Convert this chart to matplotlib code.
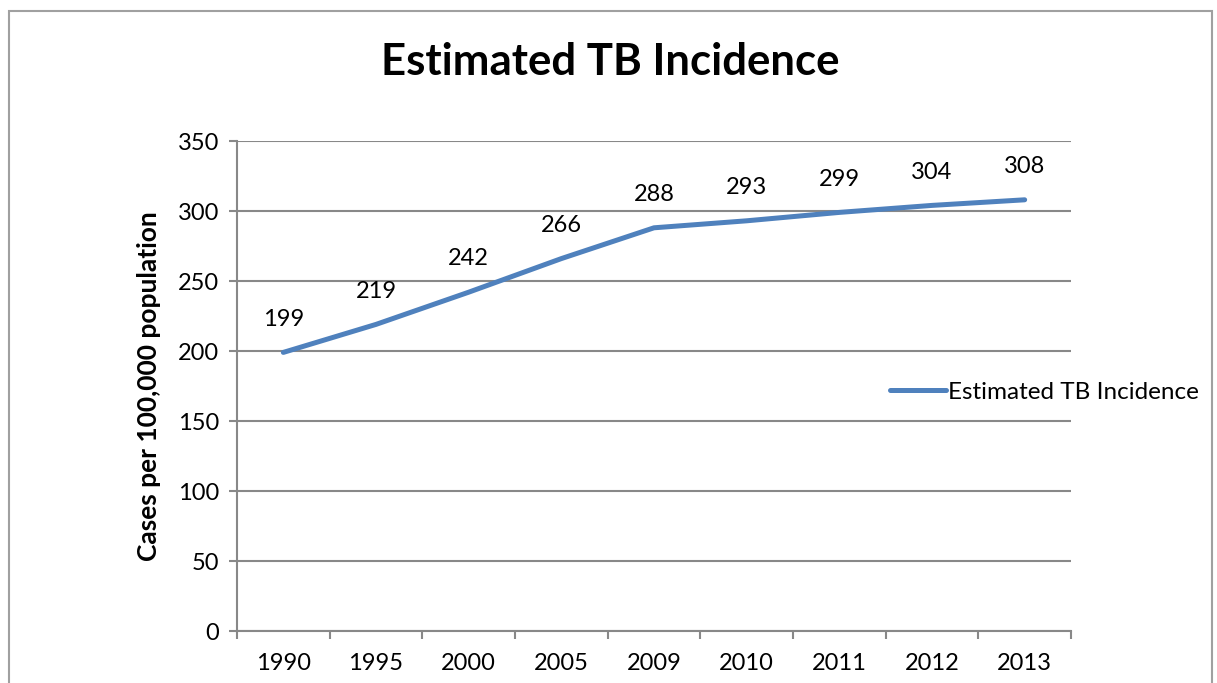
import numpy as np
import matplotlib
matplotlib.use('Agg')
import matplotlib.pyplot as plt
from matplotlib.patches import Rectangle

# data
years = ['1990', '1995', '2000', '2005', '2009', '2010', '2011', '2012', '2013']
incidence = [199, 219, 242, 266, 288, 293, 299, 304, 308]
y_ticks = [0, 50, 100, 150, 200, 250, 300, 350]

plt.rcParams['font.family'] = ['Lato', 'DejaVu Sans']
grey = '#888888'
blue = '#4F81BD'

fig = plt.figure(figsize=(12.17, 6.83), dpi=100)
# outer chart frame
fig.patches.append(Rectangle((9/1217, -0.1), (1212-9)/1217, 1.1 - 11/683,
                             transform=fig.transFigure, fill=False,
                             edgecolor='#A0A0A0', linewidth=1.5))

ax = fig.add_axes([237/1217, 52/683, (1071-237)/1217, (631-141)/683])
x = np.arange(len(years))
ax.plot(x, incidence, color=blue, linewidth=3.6, label='Estimated TB Incidence',
        solid_capstyle='round')
for xi, v in zip(x, incidence):
    ax.annotate(str(v), (xi, v), xytext=(0, 24), textcoords='offset points',
                ha='center', va='center', fontsize=17)

ax.set_xlim(-0.5, len(years) - 0.5)
ax.set_ylim(0, 350)
ax.set_yticks(y_ticks)
ax.tick_params(axis='y', labelsize=17, color=grey, length=6, width=1.5, pad=7)
# category boundaries get tick marks, labels sit at centres
ax.set_xticks(np.arange(len(years) + 1) - 0.5)
ax.set_xticklabels([])
ax.set_xticks(x, minor=True)
ax.set_xticklabels(years, minor=True)
ax.tick_params(axis='x', which='major', color=grey, length=6, width=1.5)
ax.tick_params(axis='x', which='minor', length=0, labelsize=17, pad=16)

ax.grid(axis='y', color=grey, linewidth=1.5)
ax.set_axisbelow(True)
for s in ['top', 'right']:
    ax.spines[s].set_visible(False)
for s in ['left', 'bottom']:
    ax.spines[s].set_color(grey)
    ax.spines[s].set_linewidth(1.5)

ax.set_ylabel('Cases per 100,000 population', fontsize=19, fontweight='bold', labelpad=12)
fig.text(610/1217, 1 - 62/683, 'Estimated TB Incidence', ha='center', va='center',
         fontsize=31.5, fontweight='bold')

fig.legend(loc='center left', bbox_to_anchor=(868/1217, 1 - 392/683), frameon=False,
           fontsize=17.5, handlelength=2.3, handletextpad=0.1)

fig.savefig('out.png', dpi=100)
